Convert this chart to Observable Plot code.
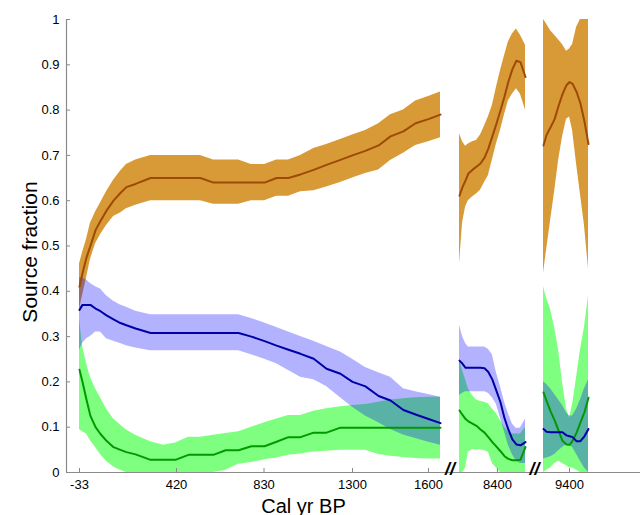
<!DOCTYPE html>
<html>
<head>
<meta charset="utf-8">
<script src="https://cdn.jsdelivr.net/npm/d3@7"></script>
<script src="https://cdn.jsdelivr.net/npm/@observablehq/plot@0.6"></script>
<style>
  body { margin: 0; background: #fff; }
  #chart { width: 640px; height: 515px; }
</style>
</head>
<body>
<div id="chart"></div>
<script>
// ---- Ages (cal yr BP) of the three record segments ----
const agesP1 = [-33, -19, 0, 18, 42, 65, 93, 126, 158, 186, 229, 299, 359, 415, 476, 532, 593, 650, 711, 771, 833, 897, 960, 1024, 1094, 1162, 1236, 1300, 1351, 1403, 1450, 1501, 1549, 1600, 1647];
const agesP2 = [8250, 8262, 8274, 8285, 8301, 8317, 8333, 8349, 8364, 8380, 8396, 8412, 8428, 8443, 8459, 8475, 8491, 8511];
const agesP3 = [9297, 9309, 9325, 9341, 9357, 9372, 9388, 9400, 9412, 9428, 9443, 9459, 9475];

// ---- Source A (orange/brown) ----
const aMean = [0.41,0.44,0.475,0.50,0.535,0.555,0.578,0.60,0.617,0.63,0.637,0.65,0.65,0.65,0.65,0.65,0.64,0.64,0.64,0.64,0.64,0.65,0.65,0.658,0.668,0.679,0.69,0.70,0.71,0.722,0.742,0.753,0.771,0.78,0.79,
  0.611,0.63,0.645,0.66,0.668,0.675,0.682,0.695,0.715,0.742,0.77,0.799,0.83,0.862,0.89,0.909,0.906,0.873,
  0.722,0.745,0.762,0.78,0.81,0.835,0.855,0.862,0.858,0.84,0.815,0.775,0.725];
const aHigh = [0.46,0.485,0.515,0.55,0.575,0.595,0.62,0.645,0.665,0.68,0.69,0.70,0.70,0.70,0.70,0.70,0.69,0.69,0.69,0.68,0.68,0.69,0.69,0.70,0.715,0.724,0.735,0.745,0.755,0.77,0.79,0.80,0.82,0.83,0.84,
  0.748,0.73,0.72,0.725,0.73,0.733,0.745,0.765,0.785,0.81,0.85,0.887,0.92,0.95,0.968,0.979,0.965,0.943,
  1.0,0.99,0.975,0.965,0.955,0.945,0.93,0.935,0.945,0.983,1.0,1.0,1.0];
const aLow = [0.36,0.39,0.43,0.47,0.505,0.525,0.545,0.565,0.573,0.582,0.59,0.60,0.60,0.60,0.60,0.60,0.592,0.592,0.592,0.60,0.60,0.61,0.61,0.62,0.622,0.63,0.64,0.65,0.66,0.668,0.689,0.705,0.722,0.73,0.739,
  0.46,0.55,0.586,0.60,0.608,0.615,0.623,0.64,0.655,0.69,0.725,0.755,0.79,0.82,0.835,0.847,0.835,0.80,
  0.44,0.49,0.556,0.62,0.69,0.74,0.78,0.785,0.755,0.68,0.615,0.545,0.45];

// ---- Source B (blue) ----
const bMean = [0.359,0.37,0.37,0.37,0.362,0.356,0.347,0.338,0.33,0.325,0.318,0.308,0.308,0.308,0.308,0.308,0.308,0.308,0.308,0.30,0.29,0.28,0.271,0.262,0.251,0.229,0.218,0.20,0.19,0.169,0.159,0.138,0.128,0.118,0.109,
  0.247,0.24,0.231,0.231,0.231,0.231,0.231,0.23,0.222,0.205,0.18,0.155,0.12,0.095,0.073,0.062,0.06,0.067,
  0.096,0.09,0.089,0.089,0.089,0.089,0.082,0.08,0.078,0.069,0.069,0.08,0.096];
const bHigh = [0.43,0.43,0.425,0.417,0.41,0.405,0.39,0.378,0.37,0.365,0.356,0.348,0.348,0.348,0.348,0.348,0.348,0.348,0.348,0.34,0.33,0.32,0.31,0.30,0.29,0.278,0.266,0.25,0.232,0.22,0.21,0.185,0.178,0.172,0.166,
  0.325,0.30,0.285,0.277,0.277,0.277,0.277,0.277,0.272,0.26,0.22,0.19,0.155,0.13,0.107,0.097,0.098,0.118,
  0.2,0.195,0.185,0.172,0.16,0.148,0.132,0.125,0.125,0.14,0.16,0.185,0.205];
const bLow = [0.27,0.285,0.295,0.30,0.31,0.31,0.295,0.29,0.285,0.28,0.275,0.269,0.269,0.269,0.269,0.269,0.269,0.269,0.269,0.26,0.25,0.24,0.225,0.21,0.205,0.19,0.165,0.144,0.125,0.11,0.095,0.083,0.075,0.067,0.06,
  0.17,0.175,0.178,0.178,0.178,0.178,0.178,0.178,0.175,0.165,0.15,0.12,0.09,0.06,0.04,0.025,0.02,0.02,
  0.03,0.032,0.035,0.04,0.048,0.055,0.062,0.06,0.055,0.04,0.025,0.01,0.0];

// ---- Source C (green) ----
const cMean = [0.227,0.2,0.16,0.125,0.1,0.085,0.07,0.056,0.05,0.045,0.04,0.028,0.028,0.028,0.039,0.039,0.039,0.049,0.049,0.058,0.058,0.068,0.078,0.078,0.088,0.088,0.099,0.099,0.099,0.099,0.099,0.099,0.099,0.099,0.099,
  0.137,0.127,0.118,0.113,0.108,0.103,0.095,0.088,0.078,0.067,0.057,0.047,0.036,0.03,0.027,0.027,0.028,0.056,
  0.177,0.158,0.135,0.115,0.092,0.07,0.062,0.061,0.07,0.088,0.11,0.133,0.165];
const cHigh = [0.34,0.28,0.24,0.21,0.185,0.165,0.14,0.118,0.105,0.094,0.082,0.068,0.06,0.065,0.078,0.078,0.082,0.086,0.09,0.10,0.11,0.118,0.126,0.126,0.135,0.141,0.145,0.148,0.15,0.155,0.16,0.163,0.165,0.166,0.166,
  0.25,0.225,0.205,0.185,0.17,0.16,0.157,0.155,0.152,0.14,0.13,0.115,0.10,0.09,0.085,0.085,0.085,0.10,
  0.41,0.385,0.36,0.32,0.27,0.2,0.14,0.12,0.15,0.21,0.27,0.32,0.39];
const cLow = [0.095,0.09,0.085,0.07,0.055,0.04,0.025,0.012,0.005,0,0,0,0,0,0,0,0,0.005,0.018,0.022,0.028,0.032,0.038,0.041,0.045,0.047,0.049,0.049,0.049,0.04,0.036,0.033,0.031,0.03,0.03,
  0,0,0.01,0.045,0.05,0.05,0.05,0.048,0.045,0.02,0.01,0,0,0,0,0,0,0,
  0,0.005,0.01,0.02,0.025,0.02,0.015,0.01,0.01,0.005,0,0,0];

// ---- Axis ticks ----
const xTicks = [-33, 420, 830, 1300, 1600, 8400, 9400];
const xTickLabels = ["-33", "420", "830", "1300", "1600", "8400", "9400"];
const yTicks = [0, 0.1, 0.2, 0.3, 0.4, 0.5, 0.6, 0.7, 0.8, 0.9, 1];
const yTickLabels = ["0", "0.1", "0.2", "0.3", "0.4", "0.5", "0.6", "0.7", "0.8", "0.9", "1"];

// ---- Broken (piecewise) age axis: scale configuration ----
const xDomain = [-94, -33, 420, 830, 1300, 1600, 1647, 8250, 8511, 9297, 9475, 9677];
const xRange  = [66, 79, 176, 263.5, 352, 428, 440, 459, 525, 543, 588, 640];

// ---- Build tables ----
const ages = agesP1.concat(agesP2, agesP3);
const panel = ages.map((_, i) => i < agesP1.length ? 0 : i < agesP1.length + agesP2.length ? 1 : 2);
function table(mean, lo, hi) {
  return ages.map((age, i) => ({age, panel: panel[i], mean: mean[i], lo: lo[i], hi: hi[i]}));
}
const A = table(aMean, aLow, aHigh);
const B = table(bMean, bLow, bHigh);
const C = table(cMean, cLow, cHigh);
const gapMids = [
  (agesP1[agesP1.length - 1] + agesP2[0]) / 2,
  (agesP2[agesP2.length - 1] + agesP3[0]) / 2
];
const xLab = new Map(xTicks.map((t, i) => [t, xTickLabels[i]]));
const yLab = new Map(yTicks.map((t, i) => [t, yTickLabels[i]]));

const font = "'Liberation Sans', Arial, sans-serif";
const chart = Plot.plot({
  width: 640,
  height: 515,
  marginLeft: 66,
  marginRight: 0,
  marginTop: 19,
  marginBottom: 43,
  style: {fontFamily: font, fontSize: "13px", background: "#fff", color: "#000", overflow: "visible"},
  x: {type: "linear", domain: xDomain, range: xRange},
  y: {domain: [0, 1]},
  marks: [
    Plot.areaY(A, {x: "age", y1: "lo", y2: "hi", z: "panel", fill: "#D89A36"}),
    Plot.areaY(C, {x: "age", y1: "lo", y2: "hi", z: "panel", fill: "#00FF00", fillOpacity: 0.5}),
    Plot.areaY(B, {x: "age", y1: "lo", y2: "hi", z: "panel", fill: "#0000FF", fillOpacity: 0.3}),
    Plot.line(A, {x: "age", y: "mean", z: "panel", stroke: "#9E4A06", strokeWidth: 2}),
    Plot.line(C, {x: "age", y: "mean", z: "panel", stroke: "#009A00", strokeWidth: 2}),
    Plot.line(B, {x: "age", y: "mean", z: "panel", stroke: "#0000A8", strokeWidth: 2}),
    Plot.ruleY([0], {stroke: "#8a8a8a", strokeWidth: 1.2}),
    Plot.ruleX([xDomain[0]], {stroke: "#8a8a8a", strokeWidth: 1.2}),
    Plot.axisX({ticks: xTicks, tickFormat: d => xLab.get(d), tickSize: -4, tickPadding: 11, stroke: "#8a8a8a", fill: "#000", label: null, fontSize: 13}),
    Plot.axisY({ticks: yTicks, tickFormat: d => yLab.get(d), tickSize: -4, tickPadding: 11, stroke: "#8a8a8a", fill: "#000", label: null, fontSize: 13}),
    Plot.text(gapMids, {x: d => d, y: 0, text: () => "//", fontSize: 18, fontStyle: "italic", fontWeight: "bold", fill: "#000", dy: -3}),
    Plot.text(["Source fraction"], {frameAnchor: "left", text: d => d, rotate: -90, textAnchor: "middle", lineAnchor: "middle", dx: -36, dy: 6, fontSize: 21, fill: "#000"}),
    Plot.text(["Cal yr BP"], {frameAnchor: "bottom", text: d => d, textAnchor: "middle", lineAnchor: "bottom", dx: -50, dy: 40, fontSize: 20, fill: "#000"})
  ]
});
document.getElementById("chart").appendChild(chart);
</script>
</body>
</html>
